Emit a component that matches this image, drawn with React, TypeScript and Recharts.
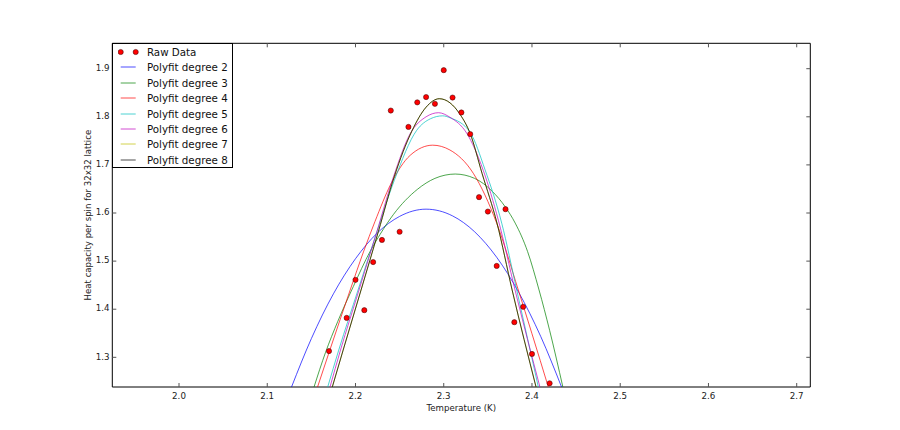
import React from "react"
import { ComposedChart, Line, Scatter, XAxis, YAxis, ReferenceArea, Legend } from "recharts"

// raw measurements (temperature, heat capacity per spin)
const RAW_T = [2.17, 2.19, 2.2, 2.21, 2.22, 2.23, 2.24, 2.25, 2.26, 2.27, 2.28, 2.29, 2.3, 2.31, 2.32, 2.33, 2.34, 2.35, 2.36, 2.37, 2.38, 2.39, 2.4, 2.42]
const RAW_C = [1.313, 1.382, 1.461, 1.398, 1.498, 1.544, 1.813, 1.561, 1.779, 1.83, 1.841, 1.827, 1.897, 1.84, 1.809, 1.764, 1.633, 1.603, 1.49, 1.608, 1.373, 1.405, 1.307, 1.246]

// fitted curves
const FIT2_T = [2.1275, 2.15, 2.175, 2.2, 2.225, 2.25, 2.28, 2.31, 2.335, 2.36, 2.385, 2.41, 2.4335]
const FIT2_C = [1.2383, 1.339, 1.432, 1.505, 1.559, 1.593, 1.608, 1.594, 1.561, 1.508, 1.435, 1.343, 1.2383]

const FIT3_T = [2.153, 2.166, 2.18, 2.1975, 2.2165, 2.228, 2.243, 2.27, 2.29, 2.313, 2.335, 2.355, 2.37, 2.381, 2.395, 2.408, 2.42, 2.435]
const FIT3_C = [1.2383, 1.31, 1.375, 1.447, 1.52, 1.556, 1.597, 1.649, 1.672, 1.681, 1.672, 1.645, 1.612, 1.579, 1.52, 1.44, 1.356, 1.2383]

const FIT4_T = [2.157, 2.17, 2.194, 2.209, 2.222, 2.24, 2.262, 2.2875, 2.307, 2.3335, 2.36, 2.3845, 2.4, 2.4185]
const FIT4_C = [1.2383, 1.31, 1.44, 1.519, 1.582, 1.66, 1.72, 1.741, 1.731, 1.6825, 1.579, 1.44, 1.349, 1.2383]

const FIT5_T = [2.1685, 2.181, 2.2029, 2.222, 2.244, 2.2694, 2.285, 2.2988, 2.3071, 2.3298, 2.3468, 2.3657, 2.3827, 2.4072]
const FIT5_C = [1.2383, 1.315, 1.44, 1.548, 1.668, 1.772, 1.796, 1.802, 1.798, 1.768, 1.69, 1.579, 1.44, 1.2383]

const FIT6_T = [2.1711, 2.183, 2.204, 2.224, 2.243, 2.262, 2.28, 2.294, 2.3071, 2.326, 2.3449, 2.3619, 2.3808, 2.409]
const FIT6_C = [1.2383, 1.315, 1.44, 1.56, 1.675, 1.765, 1.8, 1.8085, 1.799, 1.766, 1.688, 1.585, 1.44, 1.2383]

const FIT7_T = [2.1737, 2.186, 2.2063, 2.226, 2.244, 2.2638, 2.28, 2.295, 2.3071, 2.3185, 2.3298, 2.3434, 2.3604, 2.3775, 2.4046]
const FIT7_C = [1.2383, 1.315, 1.44, 1.562, 1.676, 1.77, 1.82, 1.8376, 1.829, 1.805, 1.766, 1.6825, 1.5786, 1.44, 1.2383]

const FIT8_T = [2.1737, 2.186, 2.2063, 2.226, 2.244, 2.2638, 2.28, 2.295, 2.3071, 2.3185, 2.3298, 2.3434, 2.3604, 2.3775, 2.4046]
const FIT8_C = [1.2383, 1.315, 1.44, 1.562, 1.676, 1.77, 1.82, 1.8376, 1.829, 1.805, 1.766, 1.6825, 1.5786, 1.44, 1.2383]

const X_TICKS = [2.0, 2.1, 2.2, 2.3, 2.4, 2.5, 2.6, 2.7]
const Y_TICKS = [1.3, 1.4, 1.5, 1.6, 1.7, 1.8, 1.9]
const X_DOMAIN = [1.9244, 2.7154]
const Y_DOMAIN = [1.2383, 1.9528]

const pts = (t: number[], c: number[]) => t.map((x, i) => ({ x, y: c[i] }))

const FITS = [
 { name: "Polyfit degree 2", color: "#0000ff", data: pts(FIT2_T, FIT2_C) },
 { name: "Polyfit degree 3", color: "#008000", data: pts(FIT3_T, FIT3_C) },
 { name: "Polyfit degree 4", color: "#ff0000", data: pts(FIT4_T, FIT4_C) },
 { name: "Polyfit degree 5", color: "#00bfbf", data: pts(FIT5_T, FIT5_C) },
 { name: "Polyfit degree 6", color: "#bf00bf", data: pts(FIT6_T, FIT6_C) },
 { name: "Polyfit degree 7", color: "#bfbf00", data: pts(FIT7_T, FIT7_C) },
 { name: "Polyfit degree 8", color: "#000000", data: pts(FIT8_T, FIT8_C) },
]

const FONT = "DejaVu Sans"
const PLOT = { left: 112.3, top: 43.3, right: 810.3, bottom: 387 }

function XTick({ x, payload }: any) {
 return (
 <g>
 <line x1={x} x2={x} y1={PLOT.bottom} y2={PLOT.bottom - 4} stroke="#555" />
 <line x1={x} x2={x} y1={PLOT.top} y2={PLOT.top + 4} stroke="#555" />
 <text x={x} y={PLOT.bottom + 11.8} textAnchor="middle" fontSize={8.7} fontFamily={FONT} fill="#222">
 {payload.value.toFixed(1)}
 </text>
 </g>
 )
}

function YTick({ y, payload }: any) {
 return (
 <g>
 <line x1={PLOT.left} x2={PLOT.left + 4} y1={y} y2={y} stroke="#555" />
 <line x1={PLOT.right} x2={PLOT.right - 4} y1={y} y2={y} stroke="#555" />
 <text x={PLOT.left - 2.8} y={y + 2.2} textAnchor="end" fontSize={8.7} fontFamily={FONT} fill="#222">
 {payload.value.toFixed(1)}
 </text>
 </g>
 )
}

function LegendBox() {
 const rows = [{ name: "Raw Data", color: "#ff0000", dots: true }, ...FITS.map((f) => ({ ...f, dots: false }))]
 return (
 <div
 style={{
 position: "relative",
 width: 121,
 height: 125,
 boxSizing: "border-box",
 border: "1px solid #000",
 background: "#fff",
 fontFamily: FONT,
 fontSize: 10.3,
 color: "#111",
 }}
 >
 {rows.map((r, i) => (
 <div key={r.name} style={{ position: "absolute", left: 0, top: 7.7 + i * 15.4 - 8, height: 16, width: 121 }}>
 <svg width={22} height={16} style={{ position: "absolute", left: 5, top: 0 }}>
 {r.dots ? (
 <>
 <circle cx={2.7} cy={8} r={2.6} fill="#ff0000" stroke="#300" strokeWidth={0.5} />
 <circle cx={17.7} cy={8} r={2.6} fill="#ff0000" stroke="#300" strokeWidth={0.5} />
 </>
 ) : (
 <line x1={2.7} x2={17.7} y1={8} y2={8} stroke={r.color} strokeOpacity={0.7} strokeWidth={1} />
 )}
 </svg>
 <span style={{ position: "absolute", left: 33.6, top: 0, lineHeight: "16px", whiteSpace: "nowrap" }}>{r.name}</span>
 </div>
 ))}
 </div>
 )
}

export default function App() {
 return (
 <div style={{ position: "absolute", left: 0, top: 0, background: "#fff" }}>
 <ComposedChart width={900} height={430} margin={{ top: 43.3, right: 89.7, bottom: 13, left: 62.3 }}>
 <XAxis
 type="number"
 dataKey="x"
 domain={X_DOMAIN}
 ticks={X_TICKS}
 allowDataOverflow
 height={30}
 axisLine={false}
 tickLine={false}
 tickSize={0}
 tickMargin={0}
 tick={(p: any) => <XTick {...p} />}
 label={() => (
 <text x={(PLOT.left + PLOT.right) / 2} y={410.6} textAnchor="middle" fontSize={8.6} fontFamily={FONT} fill="#222">
 Temperature (K)
 </text>
 )}
 />
 <YAxis
 type="number"
 dataKey="y"
 domain={Y_DOMAIN}
 ticks={Y_TICKS}
 allowDataOverflow
 width={50}
 axisLine={false}
 tickLine={false}
 tickSize={0}
 tickMargin={0}
 tick={(p: any) => <YTick {...p} />}
 label={() => {
 const cy = (PLOT.top + PLOT.bottom) / 2
 return (
 <text x={91.4} y={cy} transform={`rotate(-90 91.4 ${cy})`} textAnchor="middle" fontSize={8.6} fontFamily={FONT} fill="#222">
 Heat capacity per spin for 32x32 lattice
 </text>
 )
 }}
 />
 <ReferenceArea
 x1={X_DOMAIN[0]}
 x2={X_DOMAIN[1]}
 y1={Y_DOMAIN[0]}
 y2={Y_DOMAIN[1]}
 fill="none"
 stroke="#000"
 strokeWidth={1}
 ifOverflow="visible"
 />
 <Scatter
 name="Raw Data"
 data={pts(RAW_T, RAW_C)}
 isAnimationActive={false}
 shape={(p: any) => <circle cx={p.cx} cy={p.cy} r={2.6} fill="#ff0000" stroke="#300" strokeWidth={0.5} />}
 />
 {FITS.map((f) => (
 <Line
 key={f.name}
 name={f.name}
 data={f.data}
 dataKey="y"
 type="monotone"
 stroke={f.color}
 strokeOpacity={0.7}
 strokeWidth={1}
 dot={false}
 activeDot={false}
 isAnimationActive={false}
 />
 ))}
 <Legend
 layout="vertical"
 align="center"
 verticalAlign="middle"
 content={() => <LegendBox />}
 wrapperStyle={{ left: PLOT.left, top: PLOT.top, width: 121, height: 125 }}
 />
 </ComposedChart>
 </div>
 )
}
